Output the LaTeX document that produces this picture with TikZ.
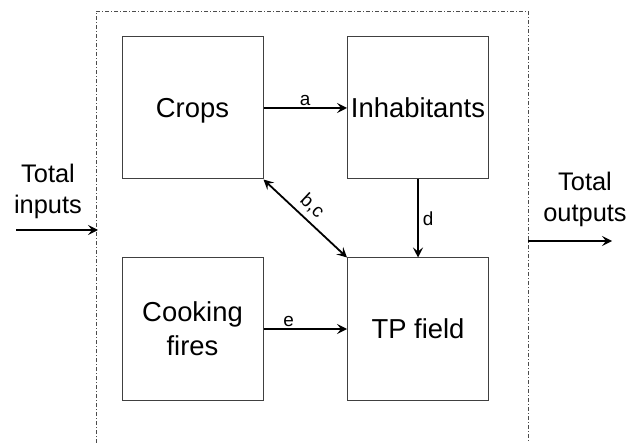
\documentclass[tikz,border=0pt]{standalone}
\usepackage{fontspec}
\setmainfont{Liberation Sans}
\usetikzlibrary{arrows.meta}
\begin{document}
\begin{tikzpicture}[x=1bp,y=-1bp,
  blockbox/.style={draw=black!75,line width=1bp,minimum width=141bp,minimum height=142bp,inner sep=0pt,align=center,text height=19.7bp,text depth=0bp,font=\fontsize{27.5}{34}\selectfont},
  flow/.style={line width=1.8bp,-{Stealth[length=10bp,width=10bp,inset=4bp]}},
  lbl/.style={font=\fontsize{19}{22}\selectfont,inner sep=1bp},
  outer/.style={draw=black!70,line width=0.8bp,dash pattern=on 4bp off 2bp on 1bp off 2bp},
  sidetext/.style={align=center,font=\fontsize{25.5}{31}\selectfont,inner sep=0pt}]
\useasboundingbox (0,0) rectangle (630,443);
\draw[outer] (96,443) -- (96,11) -- (528,11) -- (528,443);
\node[blockbox] (crops) at (192.5,108) {Crops};
\node[blockbox] (inh) at (418,108) {Inhabitants};
\node[blockbox,text height=53.7bp] (cook) at (192.5,329) {Cooking\\fires};
\node[blockbox] (tp) at (418,329) {TP field};
\draw[flow] (crops.east) -- node[lbl,above] {a} (inh.west);
\draw[flow] (cook.east) -- node[lbl,above,pos=0.3] {e} (tp.west);
\draw[flow] (inh.south) -- node[lbl,right,inner sep=4bp] {d} (tp.north);
\draw[flow,{Stealth[length=10bp,width=10bp,inset=4bp]}-{Stealth[length=10bp,width=10bp,inset=4bp]}] (crops.south east) -- node[lbl,sloped,above=4bp,pos=0.47] {b,c} (tp.north west);
\node[sidetext] (tin) at (48,191) {Total\\inputs};
\node[sidetext] (tout) at (585,199) {Total\\outputs};
\coordinate (in0) at (16,230);
\coordinate (in1) at (98,230);
\coordinate (out0) at (528,241);
\coordinate (out1) at (612,241);
\draw[flow] (in0) -- (in1);
\draw[flow] (out0) -- (out1);
\end{tikzpicture}
\end{document}
